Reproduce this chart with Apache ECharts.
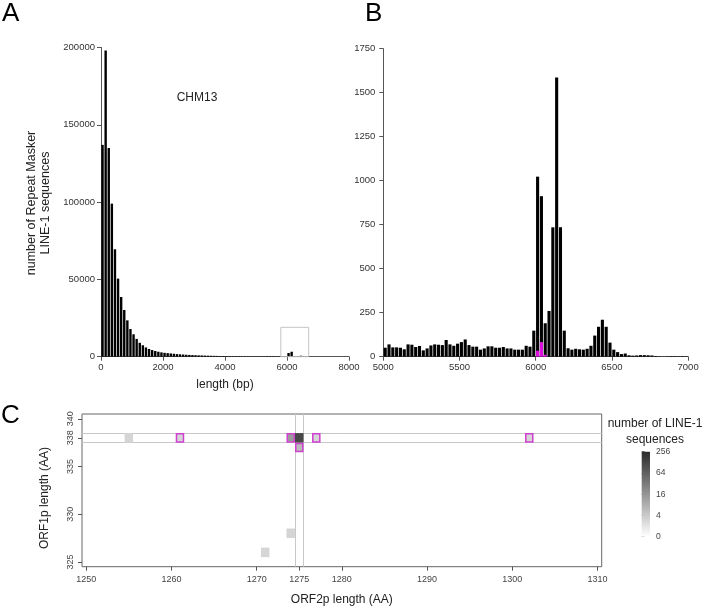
<!DOCTYPE html>
<html>
<head>
<meta charset="utf-8">
<script src="https://cdn.jsdelivr.net/npm/echarts@6/dist/echarts.min.js"></script>
<style>html,body{margin:0;padding:0;background:#fff;}#c{width:705px;height:610px;}</style>
</head>
<body>
<div id="c"></div>
<script>
// ---------- DATA ----------
// Panel A: histogram, 100 bp bins starting at 0
const binWidthA = 100;
const countsA = [137000,198000,135000,99000,69500,50500,38600,30200,23500,17900,
  14500,11500,9000,7400,6000,5000,4300,3700,3200,2800,
  2500,2300,2100,1900,1700,1550,1400,1250,1150,1050,
  950,870,800,730,670,610,560,510,470,430,
  390,350,320,300,280,260,250,240,230,230,
  227,231,199,268,301,304,203,216,174,307,
  2385,3205,175,267,630,99,30,28,8,10,
  6,4,3,2,2,1,1,1,0,1];
const zoomBox = [5800, 6700, 19000]; // x0, x1, height of the box marking panel B

// Panel B: histogram, 25 bp bins starting at 5000
const binStartB = 5000, binWidthB = 25;
const countsB = [51,70,53,53,51,42,70,68,55,61,
  36,47,64,70,68,66,95,70,62,74,
  83,98,66,57,57,40,47,59,59,51,
  51,55,47,47,40,40,40,62,57,148,
  1023,912,190,260,735,1587,735,148,48,40,
  45,42,40,45,62,120,170,210,170,80,
  40,26,15,18,8,6,7,9,9,8,
  7,4,2,1,2,3,3,2,3,2];
const magentaStartB = 6000;
const magentaB = [34, 83, 11];

// Panel C: ORF2p x ORF1p length cells
const cellOrf2 = [1255,1261,1274,1275,1275,1277,1302,1274,1271];
const cellOrf1 = [338,338,338,338,337,338,338,328,326];
const cellCount = [3,3,14,120,6,3,3,3,3];
const cellIntact = [0,1,1,0,1,1,1,0,0];
const guideOrf1 = [337.5, 338.5];
const guideOrf2 = [1274.5, 1275.5];
const xTicksC = [1250,1260,1270,1275,1280,1290,1300,1310];
const yTicksC = [325,330,335,338,340];
const legendTicks = ['0','4','16','64','256'];

// ---------- CHART ----------
const FONT = '"Liberation Sans", Arial, sans-serif';
const AX = '#555', TX = '#333';
const DARK = [43,43,43];
const plain = v => String(v);

function countColor(n){
  const p = n < 1 ? 0 : Math.min(4, Math.log(n)/Math.log(4));
  const t = p/4;
  const c = [0,1,2].map(i => Math.round(255 + (DARK[i]-255)*t));
  return 'rgb(' + c.join(',') + ')';
}

const histA = countsA.map((v,i) => [i*binWidthA, (i+1)*binWidthA, v]);
const histB = countsB.map((v,i) => [binStartB + i*binWidthB, binStartB + (i+1)*binWidthB, v]);
const histM = magentaB.map((v,i) => [magentaStartB + i*binWidthB, magentaStartB + (i+1)*binWidthB, v]);
const cells = cellOrf2.map((x,i) => [x, cellOrf1[i], cellCount[i], cellIntact[i]]);

function barRender(color){
  return function(params, api){
    const p0 = api.coord([api.value(0), api.value(2)]);
    const p1 = api.coord([api.value(1), 0]);
    return {type:'rect', shape:{x:p0[0]+0.35, y:p0[1], width:Math.max(0.5,p1[0]-p0[0]-0.7), height:p1[1]-p0[1]},
      style:{fill:color}};
  };
}

function axisCommon(extra){
  return Object.assign({
    type:'value',
    axisLine:{show:true, onZero:false, lineStyle:{color:AX, width:1}},
    axisTick:{show:true, length:4, lineStyle:{color:AX}},
    axisLabel:{fontSize:9.5, color:TX, fontFamily:FONT, formatter:plain},
    splitLine:{show:false}
  }, extra);
}

const option = {
  animation:false,
  backgroundColor:'#fff',
  textStyle:{fontFamily:FONT},
  grid:[
    {left:101, top:47.5, width:248, height:309.2, outerBoundsMode:'none'},
    {left:383.3, top:48.7, width:304.8, height:308, outerBoundsMode:'none'},
    {left:82, top:414, width:519.7, height:152.7, show:true, borderColor:'#666', borderWidth:1, backgroundColor:'#fff', outerBoundsMode:'none'},
    {left:641.7, top:451.7, width:8.3, height:85, outerBoundsMode:'none'}
  ],
  xAxis:[
    axisCommon({gridIndex:0, min:0, max:8000, interval:2000,
      axisLabel:{fontSize:9.5, color:TX, fontFamily:FONT, margin:6, formatter:plain},
      name:'length (bp)', nameLocation:'middle', nameGap:22,
      nameTextStyle:{fontSize:12, color:'#222', fontFamily:FONT}}),
    axisCommon({gridIndex:1, min:5000, max:7000, interval:500,
      axisLabel:{fontSize:9.5, color:TX, fontFamily:FONT, margin:6, formatter:plain}}),
    axisCommon({gridIndex:2, min:1249.5, max:1310.5,
      axisLine:{show:false},
      axisTick:{show:true, length:4, lineStyle:{color:AX}, customValues:xTicksC},
      axisLabel:{fontSize:9, color:'#444', fontFamily:FONT, margin:8, customValues:xTicksC, formatter:plain},
      name:'ORF2p length (AA)', nameLocation:'middle', nameGap:27,
      nameTextStyle:{fontSize:12, color:'#222', fontFamily:FONT}}),
    {gridIndex:3, type:'value', min:0, max:1, show:false}
  ],
  yAxis:[
    axisCommon({gridIndex:0, min:0, max:200000, interval:50000,
      axisLabel:{fontSize:9.5, color:TX, fontFamily:FONT, margin:6, formatter:plain}}),
    axisCommon({gridIndex:1, min:0, max:1750, interval:250,
      axisLabel:{fontSize:9.5, color:TX, fontFamily:FONT, margin:8, formatter:plain}}),
    axisCommon({gridIndex:2, min:324.5, max:340.5,
      axisLine:{show:false},
      axisTick:{show:true, length:4, lineStyle:{color:AX}, customValues:yTicksC},
      axisLabel:{fontSize:9, color:'#444', fontFamily:FONT, margin:7, rotate:90, customValues:yTicksC, formatter:plain}}),
    {gridIndex:3, type:'value', min:0, max:4, interval:1, position:'right',
      axisLine:{show:false}, splitLine:{show:false},
      axisTick:{show:true, length:3, lineStyle:{color:'#777'}},
      axisLabel:{fontSize:8.5, color:'#444', fontFamily:FONT, margin:6, formatter:(v)=>legendTicks[Math.round(v)]}}
  ],
  series:[
    {type:'custom', xAxisIndex:0, yAxisIndex:0, data:histA, encode:{x:[0,1], y:2}, renderItem:barRender('#000'), silent:true},
    {type:'custom', xAxisIndex:0, yAxisIndex:0, data:[zoomBox], encode:{x:[0,1], y:2}, silent:true,
      renderItem:function(params, api){
        const p0 = api.coord([api.value(0), api.value(2)]);
        const p1 = api.coord([api.value(1), 0]);
        return {type:'rect', shape:{x:p0[0], y:p0[1], width:p1[0]-p0[0], height:p1[1]-p0[1]},
          style:{fill:'none', stroke:'#c4c4c4', lineWidth:1}};
      }},
    {type:'custom', xAxisIndex:1, yAxisIndex:1, data:histB, encode:{x:[0,1], y:2}, renderItem:barRender('#000'), silent:true},
    {type:'custom', xAxisIndex:1, yAxisIndex:1, data:histM, encode:{x:[0,1], y:2}, renderItem:barRender('#e010e0'), silent:true},
    {type:'custom', xAxisIndex:2, yAxisIndex:2, data:cells, encode:{x:0, y:1}, silent:true, z:3,
      renderItem:function(params, api){
        const x = api.value(0), y = api.value(1);
        const p0 = api.coord([x-0.5, y+0.5]);
        const p1 = api.coord([x+0.5, y-0.5]);
        const intact = api.value(3) === 1;
        const inset = intact ? 0.75 : 0;
        return {type:'rect', shape:{x:p0[0]+inset, y:p0[1]+inset, width:p1[0]-p0[0]-2*inset, height:p1[1]-p0[1]-2*inset},
          style:{fill:countColor(api.value(2)), stroke: intact ? '#d040d0' : null, lineWidth: intact ? 1.5 : 0}};
      },
      markLine:{silent:true, symbol:['none','none'], label:{show:false}, z:2,
        lineStyle:{color:'#c8c8c8', width:1, type:'solid'},
        data: guideOrf1.map(v => ({yAxis:v})).concat(guideOrf2.map(v => ({xAxis:v})))}
    },
    {type:'custom', xAxisIndex:3, yAxisIndex:3, data:[[0,0,1,4]], silent:true,
      renderItem:function(params, api){
        const p0 = api.coord([api.value(0), api.value(3)]);
        const p1 = api.coord([api.value(2), api.value(1)]);
        return {type:'rect', shape:{x:p0[0], y:p0[1], width:p1[0]-p0[0], height:p1[1]-p0[1]},
          style:{fill:new echarts.graphic.LinearGradient(0,0,0,1,[{offset:0,color:'rgb(43,43,43)'},{offset:1,color:'#ffffff'}])}};
      }}
  ],
  graphic:[
    {type:'text', x:2, y:13.5, style:{text:'A', font:'26px '+FONT, fill:'#000', textVerticalAlign:'middle'}},
    {type:'text', x:365, y:13.5, style:{text:'B', font:'26px '+FONT, fill:'#000', textVerticalAlign:'middle'}},
    {type:'text', x:1, y:416, style:{text:'C', font:'26px '+FONT, fill:'#000', textVerticalAlign:'middle'}},
    {type:'text', x:197, y:98, style:{text:'CHM13', font:'12px '+FONT, fill:'#222', textAlign:'center', textVerticalAlign:'middle'}},
    {type:'text', x:38.75, y:203, rotation:Math.PI/2,
      style:{text:'number of Repeat Masker\nLINE-1 sequences', font:'12.5px '+FONT, lineHeight:14.5, fill:'#222', textAlign:'center', textVerticalAlign:'middle'}},
    {type:'text', x:45, y:498, rotation:Math.PI/2,
      style:{text:'ORF1p length (AA)', font:'12px '+FONT, fill:'#222', textAlign:'center', textVerticalAlign:'middle'}},
    {type:'text', x:655, y:432, style:{text:'number of LINE-1\nsequences', font:'12px '+FONT, lineHeight:15.7, fill:'#222', textAlign:'center', textVerticalAlign:'middle'}}
  ]
};

const chart = echarts.init(document.getElementById('c'), null, {renderer:'canvas'});
chart.setOption(option);
</script>
</body>
</html>
